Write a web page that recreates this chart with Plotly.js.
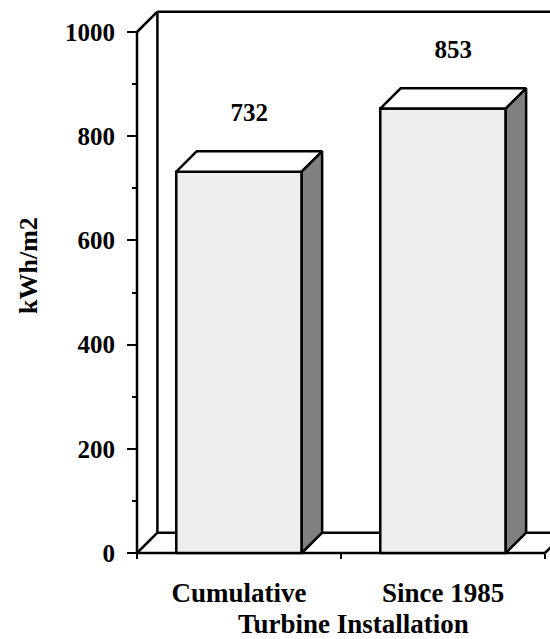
<!DOCTYPE html>
<html>
<head>
<meta charset="utf-8">
<script src="https://cdn.plot.ly/plotly-3.0.1.min.js"></script>
<style>
  html, body { margin: 0; padding: 0; background: #fff; }
  #chart { width: 550px; height: 639px; }
</style>
</head>
<body>
<div id="chart"></div>
<script>
// Energy yield per swept area, by turbine installation period
const categories = ['Cumulative', 'Since 1985'];
const values = [732, 853];
const yTickVals = [0, 200, 400, 600, 800, 1000];
const yMax = 1000;

// pseudo-3D geometry (data units)
const barWidth = 0.615;
const depthX = 0.1;
const depthY = 39;
const labelLift = 70;

const FONT = 'Liberation Serif, Times New Roman, serif';
const W = 550, H = 639;
const M = { l: 120, r: 0, t: 10, b: 80 };
const plotW = W - M.l - M.r;
const plotH = H - M.t - M.b;

// axis scaling: category step and value scale in pixels
const pxPerX = 204;
const pxPerY = 0.521;
const frontLeftPx = 17;   // front wall offset from plot edge
const floorPx = 6;        // floor offset from plot bottom

const X0 = -0.5 - frontLeftPx / pxPerX;
const X1 = X0 + plotW / pxPerX;
const Y0 = -floorPx / pxPerY;
const Y1 = Y0 + plotH / pxPerY;

const xLeft = -0.5;
const xRight = categories.length - 0.5;

const black = '#000000';
const edge = { color: black, width: 2.5 };

// front faces
const front = {
  type: 'bar',
  x: categories.map((c, i) => i),
  y: values,
  width: barWidth,
  marker: { color: '#eeeeee', line: edge },
  hoverinfo: 'skip'
};

const traces = [front];

// top and side faces of each bar
values.forEach((v, i) => {
  const a = i - barWidth / 2, b = i + barWidth / 2;
  traces.push({
    type: 'scatter', mode: 'lines', fill: 'toself', fillcolor: '#ffffff',
    x: [a, b, b + depthX, a + depthX, a],
    y: [v, v, v + depthY, v + depthY, v],
    line: edge, hoverinfo: 'skip'
  });
  traces.push({
    type: 'scatter', mode: 'lines', fill: 'toself', fillcolor: '#808080',
    x: [b, b + depthX, b + depthX, b, b],
    y: [0, depthY, v + depthY, v, 0],
    line: edge, hoverinfo: 'skip'
  });
});

// value labels above each bar
traces.push({
  type: 'scatter', mode: 'text',
  x: values.map((v, i) => i + depthX / 2),
  y: values.map(v => v + depthY + labelLift),
  text: values.map(v => String(v)),
  textposition: 'middle center',
  textfont: { family: FONT, size: 25, color: black, weight: 'bold' },
  cliponaxis: false,
  hoverinfo: 'skip'
});

// walls and floor outline, drawn beneath the bars
function seg(x0, y0, x1, y1) {
  return {
    type: 'line', xref: 'x', yref: 'y', layer: 'below',
    x0: x0, y0: y0, x1: x1, y1: y1,
    line: { color: black, width: 2.5 }
  };
}
const shapes = [
  seg(xLeft, 0, xLeft, yMax),                                   // front value axis
  seg(xLeft, yMax, xLeft + depthX, yMax + depthY),              // top corner
  seg(xLeft, 0, xLeft + depthX, depthY),                        // bottom corner
  seg(xLeft + depthX, depthY, xLeft + depthX, yMax + depthY),   // back wall edge
  seg(xLeft + depthX, yMax + depthY, X1 + 1, yMax + depthY),    // back wall top
  seg(xLeft + depthX, depthY, xRight + depthX, depthY),         // floor back edge
  seg(xLeft, 0, xRight, 0),                                     // floor front edge
  seg(xRight, 0, xRight + depthX, depthY)                       // floor right corner
];

const layout = {
  width: W, height: H,
  margin: M,
  paper_bgcolor: '#ffffff',
  plot_bgcolor: '#ffffff',
  showlegend: false,
  font: { family: FONT, color: black },
  xaxis: {
    range: [X0, X1],
    domain: [0, 1],
    anchor: 'free',
    position: (0 - Y0) / (Y1 - Y0),
    tickvals: categories.map((c, i) => i),
    ticktext: categories,
    ticks: '',
    ticklabelstandoff: 21,
    tickfont: { family: FONT, size: 27, color: black, weight: 'bold' },
    minor: { tick0: -0.5, dtick: 1, ticks: 'outside', ticklen: 5, tickwidth: 2, tickcolor: black },
    showgrid: false, zeroline: false, showline: false,
    fixedrange: true
  },
  yaxis: {
    range: [Y0, Y1],
    domain: [0, 1],
    anchor: 'free',
    position: frontLeftPx / plotW,
    tickvals: yTickVals,
    ticks: 'outside',
    ticklen: 10, tickwidth: 2, tickcolor: black,
    ticklabelstandoff: 7,
    tickfont: { family: FONT, size: 25, color: black, weight: 'bold' },
    minor: { dtick: 100, tick0: 0, ticks: 'outside', ticklen: 5, tickwidth: 2, tickcolor: black },
    showgrid: false, zeroline: false, showline: false,
    fixedrange: true
  },
  shapes: shapes,
  annotations: [
    {
      text: 'kWh/m2', xref: 'paper', yref: 'paper',
      x: (28 - M.l) / plotW, y: (H - M.b - 266) / plotH,
      textangle: -90, showarrow: false,
      xanchor: 'center', yanchor: 'middle',
      font: { family: FONT, size: 26, color: black, weight: 'bold' }
    },
    {
      text: 'Turbine Installation', xref: 'paper', yref: 'paper',
      x: (353 - M.l) / plotW, y: (H - M.b - 624) / plotH,
      showarrow: false, xanchor: 'center', yanchor: 'middle',
      font: { family: FONT, size: 27, color: black, weight: 'bold' }
    }
  ]
};

Plotly.newPlot('chart', traces, layout, { displayModeBar: false, staticPlot: true });
</script>
</body>
</html>
